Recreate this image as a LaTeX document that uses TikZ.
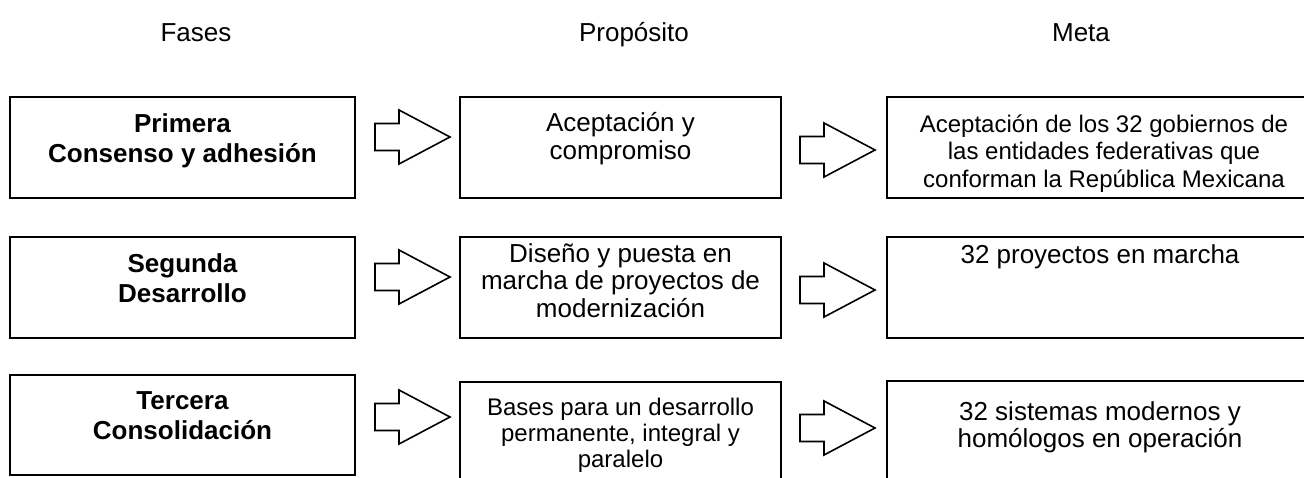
\documentclass[tikz,border=0pt]{standalone}
\usepackage{fontspec}
\setmainfont{Liberation Sans}
\newcommand\firstln{\rule{0pt}{26pt}}
\tikzset{
  box/.style={draw, line width=2.4pt, inner sep=0pt, outer sep=0pt, anchor=north west},
  txt/.style={font=\fontsize{26}{27.5}\selectfont, align=center, inner sep=0pt, anchor=north},
  txtb/.style={font=\fontsize{26}{30.5}\selectfont\bfseries, align=center, inner sep=0pt, anchor=north},
  head/.style={font=\fontsize{26}{30}\selectfont, inner sep=0pt, anchor=base},
  blockarrow/.pic={\draw[line width=1.6pt, line join=miter]
    (0,0) -- (-51,-27) -- (-51,-13.5) -- (-75,-13.5) -- (-75,13.5) -- (-51,13.5) -- (-51,27) -- cycle;}
}
\begin{document}
\begin{tikzpicture}[x=1pt,y=-1pt]
\useasboundingbox (0,0) rectangle (1304,477);
\clip (0,0) rectangle (1304,477);
% headers
\node[head] (hf) at (196,41) {Fases};
\node[head] (hp) at (634,41) {Propósito};
\node[head] (hm) at (1081,41) {Meta};
% row 1
\node[box, minimum width=345, minimum height=101] (f1) at (10,97) {};
\node[box, minimum width=321, minimum height=101] (p1) at (460,97) {};
\node[box, minimum width=428, minimum height=101] (m1) at (887,97) {};
\node[txtb] (f1t) at (182.5,106) {\firstln Primera\\Consenso y adhesión};
\node[txt, font=\fontsize{26}{28.5}\selectfont] (p1t) at (620.5,105) {\firstln Aceptación y\\compromiso};
\node[txt, font=\fontsize{24}{27.5}\selectfont] (m1t) at (1104,106) {\firstln Aceptación de los 32 gobiernos de\\las entidades federativas que\\conforman la República Mexicana};
% row 2
\node[box, minimum width=345, minimum height=101] (f2) at (10,237) {};
\node[box, minimum width=321, minimum height=101] (p2) at (460,237) {};
\node[box, minimum width=428, minimum height=101] (m2) at (887,237) {};
\node[txtb] (f2t) at (182.5,246) {\firstln Segunda\\Desarrollo};
\node[txt] (p2t) at (620.5,236) {\firstln Diseño y puesta en\\marcha de proyectos de\\modernización};
\node[txt] (m2t) at (1100,237) {\firstln 32 proyectos en marcha};
% row 3
\node[box, minimum width=345, minimum height=100] (f3) at (10,375) {};
\node[box, minimum width=321, minimum height=120] (p3) at (460,382) {};
\node[box, minimum width=428, minimum height=120] (m3) at (887,381) {};
\node[txtb] (f3t) at (182.5,383) {\firstln Tercera\\Consolidación};
\node[txt, font=\fontsize{24}{26}\selectfont] (p3t) at (620.5,389) {\firstln Bases para un desarrollo\\permanente, integral y\\paralelo};
\node[txt] (m3t) at (1100,394) {\firstln 32 sistemas modernos y\\homólogos en operación};
% block arrows
\pic at (450,137) {blockarrow};
\pic at (875,150) {blockarrow};
\pic at (450,277) {blockarrow};
\pic at (875,290) {blockarrow};
\pic at (450,417) {blockarrow};
\pic at (875,428) {blockarrow};
\end{tikzpicture}
\end{document}
